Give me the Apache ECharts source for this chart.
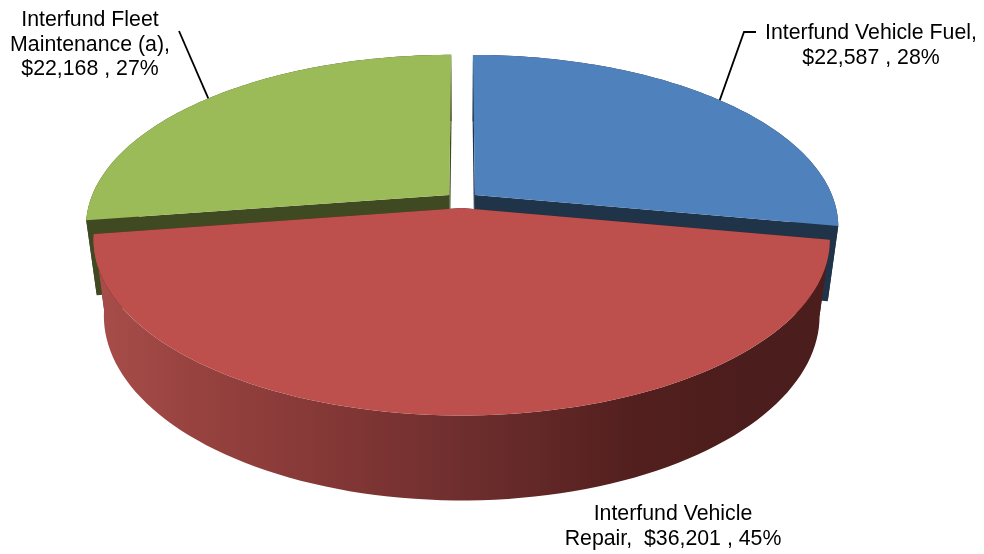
<!DOCTYPE html>
<html>
<head>
<meta charset="utf-8">
<style>
  html, body { margin: 0; padding: 0; background: #fff; }
  #myChart { width: 984px; height: 554px; }
</style>
<script src="https://cdn.jsdelivr.net/npm/echarts@6/dist/echarts.min.js"></script>
</head>
<body>
<div id="myChart"></div>
<script>
// clockwise from 12 o'clock
var categories = ['Interfund Vehicle Fuel,', 'Interfund Vehicle\nRepair, ', 'Interfund Fleet\nMaintenance (a),'];
var separators = ['\n', ' ', '\n'];
var amounts = [22587, 36201, 22168];
var percents = [28, 45, 27];

var topColors = ['#4f81bd', '#bd4f4c', '#9bbb59'];
var wallColors = ['#1f3349', '#4b1d1c', '#404a22'];

// where the text goes, and the elbow of the leader line (null = no leader)
var labelPos = [[871, 21], [673, 502], [90, 8]];
var leaderBends = [[[756, 32], [744, 32]], null, [[179, 31]]];

// pie projection
var cx = 462, cy = 200;
var rx = 359, ry = 167;
var persp = 0.18;     // near side is drawn bigger than far side
var explode = 0.047;  // slice pull-out, in pie radii
var drop = 76;        // pie thickness
var baseScale = 0.972;

var total = amounts.reduce(function (a, b) { return a + b; }, 0);

function sliceAngles(idx) {
  var sum = 0;
  for (var i = 0; i < idx; i++) sum += amounts[i];
  return [sum / total * 2 * Math.PI, (sum + amounts[idx]) / total * 2 * Math.PI];
}

// a,b are pie plane coords (b towards viewer), base = bottom face
function project(a, b, base) {
  var w = 1 - persp * b;
  if (base) {
    return [cx + baseScale * rx * a / w, cy + baseScale * (ry * b + drop) / w];
  }
  return [cx + rx * a / w, cy + ry * b / w];
}

function arcPoints(ang, off, base) {
  var pts = [];
  var n = 90;
  for (var i = 0; i <= n; i++) {
    var t = ang[0] + (ang[1] - ang[0]) * i / n;
    pts.push(project(off[0] + Math.sin(t), off[1] - Math.cos(t), base));
  }
  return pts;
}

function sliceOffset(ang) {
  var mid = (ang[0] + ang[1]) / 2;
  return [explode * Math.sin(mid), -explode * Math.cos(mid)];
}

function wallFill(idx) {
  if (idx !== 1) return wallColors[idx];
  // the big front wall is lit from the left
  return new echarts.graphic.LinearGradient(0, 0, 1, 0, [
    { offset: 0, color: '#a84e4a' },
    { offset: 0.14, color: '#97423f' },
    { offset: 0.28, color: '#883a38' },
    { offset: 0.5, color: '#6f2e2e' },
    { offset: 0.74, color: '#521f1e' },
    { offset: 0.89, color: wallColors[1] },
    { offset: 1, color: wallColors[1] }
  ]);
}

function renderSlice(params, api) {
  var idx = params.dataIndex;
  var ang = sliceAngles(idx);
  var off = sliceOffset(ang);
  var zBase = idx === 1 ? 10 : 0; // red one sits in front of the other two

  var topArc = arcPoints(ang, off, false);
  var baseArc = arcPoints(ang, off, true);
  var topApex = project(off[0], off[1], false);
  var baseApex = project(off[0], off[1], true);

  var children = [];
  // radial walls
  children.push({
    type: 'polygon', z2: zBase + 1,
    shape: { points: [topApex, topArc[0], baseArc[0], baseApex] },
    style: { fill: wallColors[idx] }
  });
  children.push({
    type: 'polygon', z2: zBase + 1,
    shape: { points: [topApex, topArc[topArc.length - 1], baseArc[baseArc.length - 1], baseApex] },
    style: { fill: wallColors[idx] }
  });
  // outer wall
  children.push({
    type: 'polygon', z2: zBase + 2,
    shape: { points: topArc.concat(baseArc.slice().reverse()) },
    style: { fill: wallFill(idx) }
  });
  // top face
  children.push({
    type: 'polygon', z2: zBase + 3,
    shape: { points: [topApex].concat(topArc) },
    style: { fill: topColors[idx] }
  });

  // leader line ends on the arc at the middle of the slice
  if (leaderBends[idx]) {
    var mid = (ang[0] + ang[1]) / 2;
    var anchor = project(off[0] + Math.sin(mid), off[1] - Math.cos(mid), false);
    children.push({
      type: 'polyline', z2: 30,
      shape: { points: leaderBends[idx].concat([anchor]) },
      style: { stroke: '#000', lineWidth: 1.8, fill: null }
    });
  }

  children.push({
    type: 'text', z2: 30,
    x: labelPos[idx][0], y: labelPos[idx][1],
    style: {
      text: categories[idx] + separators[idx] + '$' + api.value(0).toLocaleString('en-US') + ' , ' + percents[idx] + '%',
      fontFamily: '"Liberation Sans", Arial, sans-serif',
      fontSize: 21.3,
      lineHeight: 24.5,
      fill: '#000',
      align: 'center',
      verticalAlign: 'top'
    }
  });

  return { type: 'group', children: children };
}

var myChart = echarts.init(document.getElementById('myChart'));
myChart.setOption({
  animation: false,
  backgroundColor: '#fff',
  series: [
    {
      type: 'custom',
      coordinateSystem: 'none',
      silent: true,
      data: amounts.map(function (v) { return [v]; }),
      renderItem: renderSlice
    }
  ]
});
</script>
</body>
</html>
